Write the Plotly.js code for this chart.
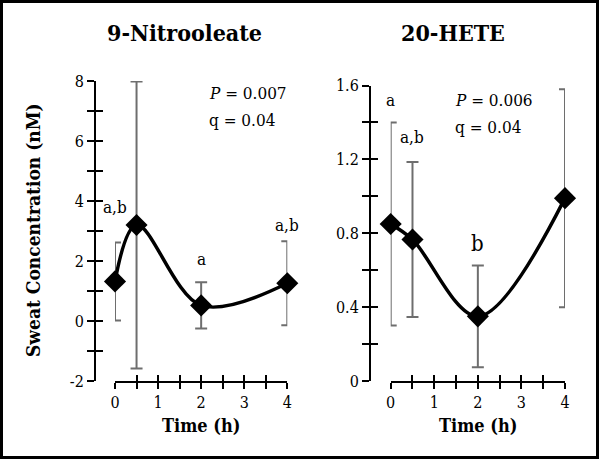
<!DOCTYPE html>
<html><head><meta charset="utf-8">
<script src="https://cdn.plot.ly/plotly-3.0.1.min.js"></script>
<style>html,body{margin:0;padding:0;background:#fff}</style>
</head><body><div id="chart" style="width:600px;height:459px"></div>
<script>
// ---- data ----
const timeH = [0, 0.5, 2, 4];
const nitroMean = [1.32, 3.2, 0.52, 1.26];
const nitroErr = [1.3, 4.78, 0.77, 1.4];
const nitroLetters = ['a,b', 'b', 'a', 'a,b'];
const heteMean = [0.85, 0.766, 0.35, 0.99];
const heteErr = [0.55, 0.42, 0.275, 0.59];
const heteLetters = ['a', 'a,b', 'b', 'a'];
const xTickVals = [0, 0.5, 1, 1.5, 2, 2.5, 3, 3.5, 4];
const xTickText = ['0', '', '1', '', '2', '', '3', '', '4'];
const nitroTickVals = [-2, -1, 0, 1, 2, 3, 4, 5, 6, 7, 8];
const nitroTickText = ['-2', '', '0', '', '2', '', '4', '', '6', '', '8'];
const heteTickVals = [0, 0.2, 0.4, 0.6, 0.8, 1.0, 1.2, 1.4, 1.6];
const heteTickText = ['0', '', '0.4', '', '0.8', '', '1.2', '', '1.6'];
const panelTitles = ['9-Nitrooleate', '20-HETE'];
const statsText = [['<i>P</i> = 0.007', 'q = 0.04'], ['<i>P</i> = 0.006', 'q = 0.04']];
const yTitle = 'Sweat Concentration (nM)';
const xTitle = 'Time (h)';

// ---- label placement (layout only) ----
const nitroLabelY = [3.79, 8.59, 2.06, 3.19];
const heteLabelY = [1.519, 1.319, 0.746, 1.714];
const heteLabelSize = [17, 17, 22, 17];

const F = '"DejaVu Serif Condensed", "DejaVu Serif", serif';
const W = 600, H = 459;
const px = v => v / W, py = v => 1 - v / H;

function series(x, y, e, xa, ya) {
  return {
    type: 'scatter', mode: 'lines+markers', x: x, y: y,
    xaxis: xa, yaxis: ya, cliponaxis: false, showlegend: false,
    line: {shape: 'spline', color: '#000', width: 3.5},
    marker: {symbol: 'diamond', size: 17, color: '#000'},
    error_y: {type: 'data', array: e, visible: true, color: '#6e6e6e', thickness: 2, width: 6}
  };
}
const data = [
  series(timeH, nitroMean, nitroErr, 'x', 'y'),
  series(timeH, heteMean, heteErr, 'x2', 'y2'),
  {type: 'scatter', x: [], y: [], xaxis: 'x3', yaxis: 'y3', showlegend: false, hoverinfo: 'skip'},
  {type: 'scatter', x: [], y: [], xaxis: 'x4', yaxis: 'y4', showlegend: false, hoverinfo: 'skip'}
];

const tickFont = {family: F, size: 16, color: '#000'};
function xAx(domain, anchor, ticks, main) {
  return {domain: domain, anchor: anchor, range: [0, 4], tickmode: 'array', tickvals: xTickVals, ticktext: xTickText,
    ticks: ticks, ticklen: 6, tickwidth: 2, tickcolor: '#000', showline: main, linewidth: 2, linecolor: '#000',
    showgrid: false, zeroline: false, showticklabels: main, tickfont: tickFont, fixedrange: true};
}
function yAx(domain, pos, range, tv, tt, ticks, main) {
  return {domain: domain, anchor: 'free', position: pos, range: range, tickmode: 'array', tickvals: tv, ticktext: tt,
    ticks: ticks, ticklen: 7, tickwidth: 2, tickcolor: '#000', showline: main, linewidth: 2, linecolor: '#000',
    showgrid: false, zeroline: false, showticklabels: main, tickfont: tickFont, fixedrange: true};
}
const xd1 = [px(115), px(287.3)], yd1 = [py(381), py(81)];
const xd2 = [px(390.7), px(565)], yd2 = [py(381), py(85.5)];

const x3 = xAx(xd1, 'y3', 'inside', false); x3.overlaying = 'x';
const y3 = yAx(yd1, px(95), [-2, 8], nitroTickVals, nitroTickText, 'inside', false); y3.overlaying = 'y';
const x4 = xAx(xd2, 'y4', 'inside', false); x4.overlaying = 'x2';
const y4 = yAx(yd2, px(370), [0, 1.6], heteTickVals, heteTickText, 'inside', false); y4.overlaying = 'y2';

const ann = [];
function pa(x, y, text, size, extra) {
  return Object.assign({xref: 'paper', yref: 'paper', x: px(x), y: py(y), xanchor: 'center', yanchor: 'middle',
    text: text, showarrow: false, font: {family: F, size: size, color: '#000'}}, extra || {});
}
ann.push(pa(184, 33, '<b>' + panelTitles[0] + '</b>', 23));
ann.push(pa(453, 33, '<b>' + panelTitles[1] + '</b>', 23));
ann.push(pa(33, 230, '<b>' + yTitle + '</b>', 19, {textangle: -90}));
ann.push(pa(201, 425, '<b>' + xTitle + '</b>', 18));
ann.push(pa(478, 425, '<b>' + xTitle + '</b>', 18));
[[207, 93], [207, 120]].forEach((p, i) => ann.push(pa(p[0], p[1], statsText[0][i], 17, {xanchor: 'left'})));
[[453, 100], [453, 127]].forEach((p, i) => ann.push(pa(p[0], p[1], statsText[1][i], 17, {xanchor: 'left'})));
timeH.forEach((t, i) => {
  ann.push({xref: 'x', yref: 'y', x: t, y: nitroLabelY[i], xanchor: 'center', yanchor: 'middle', text: nitroLetters[i], showarrow: false, font: {family: F, size: 17, color: '#000'}});
  ann.push({xref: 'x2', yref: 'y2', x: t, y: heteLabelY[i], xanchor: 'center', yanchor: 'middle', text: heteLetters[i], showarrow: false, font: {family: F, size: heteLabelSize[i], color: '#000'}});
});

const layout = {
  width: W, height: H, margin: {l: 0, r: 0, t: 0, b: 0},
  paper_bgcolor: '#fff', plot_bgcolor: 'rgba(0,0,0,0)', showlegend: false,
  font: {family: F, color: '#000'},
  xaxis: xAx(xd1, 'y', 'outside', true),
  yaxis: yAx(yd1, px(95), [-2, 8], nitroTickVals, nitroTickText, 'outside', true),
  xaxis2: xAx(xd2, 'y2', 'outside', true),
  yaxis2: yAx(yd2, px(370), [0, 1.6], heteTickVals, heteTickText, 'outside', true),
  xaxis3: x3, yaxis3: y3, xaxis4: x4, yaxis4: y4,
  annotations: ann,
  shapes: [{type: 'rect', xref: 'paper', yref: 'paper', x0: px(1.5), x1: px(597.5), y0: py(457.5), y1: py(1.5), line: {color: '#000', width: 3}}]
};
Plotly.newPlot('chart', data, layout, {displayModeBar: false, staticPlot: true});
</script></body></html>
